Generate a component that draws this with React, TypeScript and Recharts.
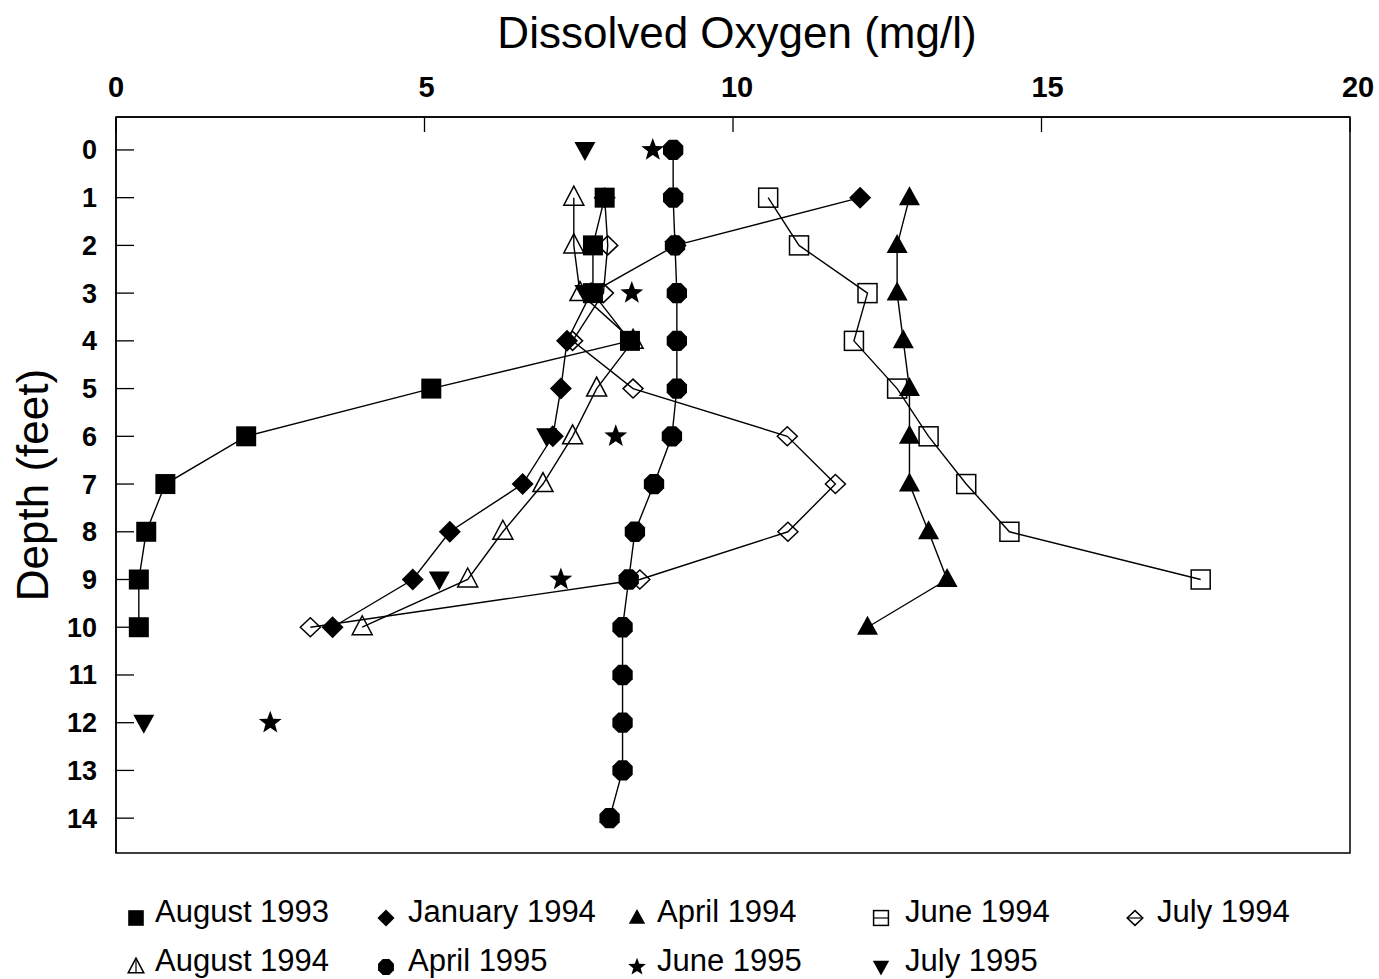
import React from 'react';
import { ScatterChart, Scatter, XAxis, YAxis, ReferenceArea } from 'recharts';

// depth (feet) / dissolved oxygen (mg/l) per sampling date
const aug1993Depth = [1, 2, 3, 4, 5, 6, 7, 8, 9, 10];
const aug1993DO = [7.92, 7.73, 7.73, 8.33, 5.11, 2.11, 0.8, 0.49, 0.37, 0.37];

const jan1994Depth = [1, 2, 3, 4, 5, 6, 7, 8, 9, 10];
const jan1994DO = [12.06, 9.07, 7.7, 7.31, 7.21, 7.08, 6.59, 5.41, 4.81, 3.51];

const apr1994Depth = [1, 2, 3, 4, 5, 6, 7, 8, 9, 10];
const apr1994DO = [12.86, 12.66, 12.66, 12.76, 12.86, 12.86, 12.86, 13.17, 13.47, 12.18];

const jun1994Depth = [1, 2, 3, 4, 5, 6, 7, 8, 9];
const jun1994DO = [10.57, 11.07, 12.18, 11.96, 12.66, 13.17, 13.78, 14.48, 17.58];

const jul1994Depth = [1, 2, 3, 4, 5, 6, 7, 8, 9, 10];
const jul1994DO = [7.92, 7.97, 7.9, 7.4, 8.38, 10.88, 11.66, 10.89, 8.49, 3.15];

const aug1994Depth = [1, 2, 3, 4, 5, 6, 7, 8, 9, 10];
const aug1994DO = [7.42, 7.42, 7.52, 8.38, 7.79, 7.4, 6.92, 6.27, 5.7, 3.99];

const apr1995Depth = [0, 1, 2, 3, 4, 5, 6, 7, 8, 9, 10, 11, 12, 13, 14];
const apr1995DO = [9.03, 9.03, 9.06, 9.09, 9.09, 9.09, 9.01, 8.72, 8.41, 8.31, 8.21, 8.21, 8.21, 8.21, 8.0];

const jun1995Depth = [0, 3, 6, 9, 12];
const jun1995DO = [8.7, 8.36, 8.1, 7.21, 2.5];

const jul1995Depth = [0, 3, 6, 9, 12];
const jul1995DO = [7.6, 7.6, 6.98, 5.24, 0.45];

const xTicks = [0, 5, 10, 15, 20];
const yTicks = [0, 1, 2, 3, 4, 5, 6, 7, 8, 9, 10, 11, 12, 13, 14];
const xDomain: [number, number] = [0, 20];
const yDomain: [number, number] = [-0.69, 14.73];

const FONT = '"Liberation Sans", Arial, Helvetica, sans-serif';

const zip = (depth: number[], val: number[]) => depth.map((d, i) => ({ depth: d, value: val[i] }));

type Kind = 'square' | 'diamond' | 'triangle' | 'openSquare' | 'openDiamond' | 'openTriangle' | 'circle' | 'star' | 'invTriangle';

const Marker = ({ kind, cx, cy, k = 1 }: { kind: Kind; cx: number; cy: number; k?: number }) => {
  const sw = 1.5;
  switch (kind) {
    case 'square':
      return <rect x={cx - 10 * k} y={cy - 10 * k} width={20 * k} height={20 * k} fill="#000" />;
    case 'diamond':
      return <polygon points={`${cx},${cy - 11 * k} ${cx + 11 * k},${cy} ${cx},${cy + 11 * k} ${cx - 11 * k},${cy}`} fill="#000" />;
    case 'triangle':
      return <polygon points={`${cx},${cy - 11.5 * k} ${cx + 10.5 * k},${cy + 7.5 * k} ${cx - 10.5 * k},${cy + 7.5 * k}`} fill="#000" />;
    case 'openSquare':
      return <rect x={cx - 9.5 * k} y={cy - 9.5 * k} width={19 * k} height={19 * k} fill="none" stroke="#000" strokeWidth={sw} />;
    case 'openDiamond':
      return <polygon points={`${cx},${cy - 9.5 * k} ${cx + 10 * k},${cy} ${cx},${cy + 9.5 * k} ${cx - 10 * k},${cy}`} fill="none" stroke="#000" strokeWidth={sw} />;
    case 'openTriangle':
      return <polygon points={`${cx},${cy - 11.5 * k} ${cx + 10 * k},${cy + 7.5 * k} ${cx - 10 * k},${cy + 7.5 * k}`} fill="none" stroke="#000" strokeWidth={sw} />;
    case 'circle': {
      const pts = Array.from({ length: 8 }, (_, i) => {
        const a = (Math.PI / 8) * (2 * i + 1);
        return `${cx + 11 * k * Math.cos(a)},${cy + 11 * k * Math.sin(a)}`;
      }).join(' ');
      return <polygon points={pts} fill="#000" />;
    }
    case 'star': {
      const pts = Array.from({ length: 10 }, (_, i) => {
        const r = i % 2 === 0 ? 12 * k : 5 * k;
        const a = -Math.PI / 2 + (Math.PI / 5) * i;
        return `${cx + r * Math.cos(a)},${cy + r * Math.sin(a)}`;
      }).join(' ');
      return <polygon points={pts} fill="#000" />;
    }
    case 'invTriangle':
      return <polygon points={`${cx - 10.5 * k},${cy - 8 * k} ${cx + 10.5 * k},${cy - 8 * k} ${cx},${cy + 11 * k}`} fill="#000" />;
    default:
      return null;
  }
};

const shapeOf = (kind: Kind) => (props: any) => <Marker kind={kind} cx={props.cx} cy={props.cy} />;

const series: { name: string; kind: Kind; data: { depth: number; value: number }[]; joined: boolean }[] = [
  { name: 'August 1993', kind: 'square', data: zip(aug1993Depth, aug1993DO), joined: true },
  { name: 'January 1994', kind: 'diamond', data: zip(jan1994Depth, jan1994DO), joined: true },
  { name: 'April 1994', kind: 'triangle', data: zip(apr1994Depth, apr1994DO), joined: true },
  { name: 'June 1994', kind: 'openSquare', data: zip(jun1994Depth, jun1994DO), joined: true },
  { name: 'July 1994', kind: 'openDiamond', data: zip(jul1994Depth, jul1994DO), joined: true },
  { name: 'August 1994', kind: 'openTriangle', data: zip(aug1994Depth, aug1994DO), joined: true },
  { name: 'April 1995', kind: 'circle', data: zip(apr1995Depth, apr1995DO), joined: true },
  { name: 'June 1995', kind: 'star', data: zip(jun1995Depth, jun1995DO), joined: false },
  { name: 'July 1995', kind: 'invTriangle', data: zip(jul1995Depth, jul1995DO), joined: false },
];

const X_MARGIN = 20;
const Y_MARGIN = 19;
const PLOT_LEFT = 116;

const XTick = (props: any) => {
  const { x, y, payload } = props;
  // printed labels sit slightly wider than the tick marks
  const lx = x + (x - PLOT_LEFT) * 0.0065;
  return (
    <g>
      <text x={lx} y={y} textAnchor="middle" fontSize={29} fontWeight="bold" fontFamily={FONT} fill="#000">
        {payload.value}
      </text>
      <line x1={x} x2={x} y1={y + X_MARGIN} y2={y + X_MARGIN + 15} stroke="#000" strokeWidth={1.3} />
    </g>
  );
};

const YTick = (props: any) => {
  const { x, y, payload } = props;
  return (
    <g>
      <text x={x} y={y} dy={9.5} textAnchor="end" fontSize={27} fontWeight="bold" fontFamily={FONT} fill="#000">
        {payload.value}
      </text>
      <line x1={x + Y_MARGIN} x2={x + Y_MARGIN + 18} y1={y} y2={y} stroke="#000" strokeWidth={1.3} />
    </g>
  );
};

const legendCols = [136, 386, 637, 881, 1135];
const legendTextX = [155, 408, 657, 905, 1157];
const legendRows = [922, 971];

const LegendBox = () => (
  <svg width={1379} height={979} style={{ position: 'absolute', left: 0, top: 0, pointerEvents: 'none' }}>
    {series.map((s, i) => {
      const row = i < 5 ? 0 : 1;
      const col = i < 5 ? i : i - 5;
      const base = legendRows[row];
      const cx = legendCols[col];
      const cy = base - 4;
      return (
        <g key={s.name}>
          <Marker kind={s.kind} cx={cx} cy={cy} k={0.78} />
          {(s.kind === 'openSquare' || s.kind === 'openDiamond') && (
            <line x1={cx - 8} x2={cx + 8} y1={cy} y2={cy} stroke="#000" strokeWidth={1.2} />
          )}
          {s.kind === 'openTriangle' && <line x1={cx} x2={cx} y1={cy - 9} y2={cy + 6} stroke="#000" strokeWidth={1.2} />}
          <text x={legendTextX[col]} y={base} fontSize={31} fontFamily={FONT} fill="#000">
            {s.name}
          </text>
        </g>
      );
    })}
  </svg>
);

export default function App() {
  return (
    <div style={{ position: 'absolute', left: 0, top: 0, width: 1379, height: 979, background: '#fff', fontFamily: FONT }}>
      <ScatterChart width={1379} height={979} margin={{ top: 0, right: 29, bottom: 126, left: 0 }}>
        <XAxis
          type="number"
          dataKey="value"
          orientation="top"
          domain={xDomain}
          ticks={xTicks}
          height={117}
          tickSize={0}
          tickMargin={X_MARGIN}
          tickLine={false}
          axisLine={{ stroke: '#000', strokeWidth: 1.5 }}
          tick={<XTick />}
          interval={0}
          allowDataOverflow
        />
        <YAxis
          type="number"
          dataKey="depth"
          reversed
          domain={yDomain}
          ticks={yTicks}
          width={116}
          tickSize={0}
          tickMargin={Y_MARGIN}
          tickLine={false}
          axisLine={{ stroke: '#000', strokeWidth: 1.5 }}
          tick={<YTick />}
          interval={0}
          allowDataOverflow
        />
        {/* plot frame */}
        <ReferenceArea
          x1={xDomain[0]}
          x2={xDomain[1]}
          y1={yDomain[0]}
          y2={yDomain[1]}
          fill="none"
          fillOpacity={0}
          stroke="#000"
          strokeWidth={1.5}
          ifOverflow="visible"
        />
        {series.map((s) => (
          <Scatter
            key={s.name}
            name={s.name}
            data={s.data}
            line={s.joined ? { stroke: '#000', strokeWidth: 1.4 } : false}
            lineType="joint"
            shape={shapeOf(s.kind)}
            isAnimationActive={false}
          />
        ))}
      </ScatterChart>
      <div
        style={{
          position: 'absolute',
          left: 737,
          top: 11,
          transform: 'translateX(-50%)',
          fontSize: 44,
          lineHeight: '44px',
          whiteSpace: 'nowrap',
          color: '#000',
        }}
      >
        Dissolved Oxygen (mg/l)
      </div>
      <div
        style={{
          position: 'absolute',
          left: 33,
          top: 485,
          transform: 'translate(-50%, -50%) rotate(-90deg)',
          fontSize: 44,
          lineHeight: '44px',
          whiteSpace: 'nowrap',
          color: '#000',
        }}
      >
        Depth (feet)
      </div>
      <LegendBox />
    </div>
  );
}
